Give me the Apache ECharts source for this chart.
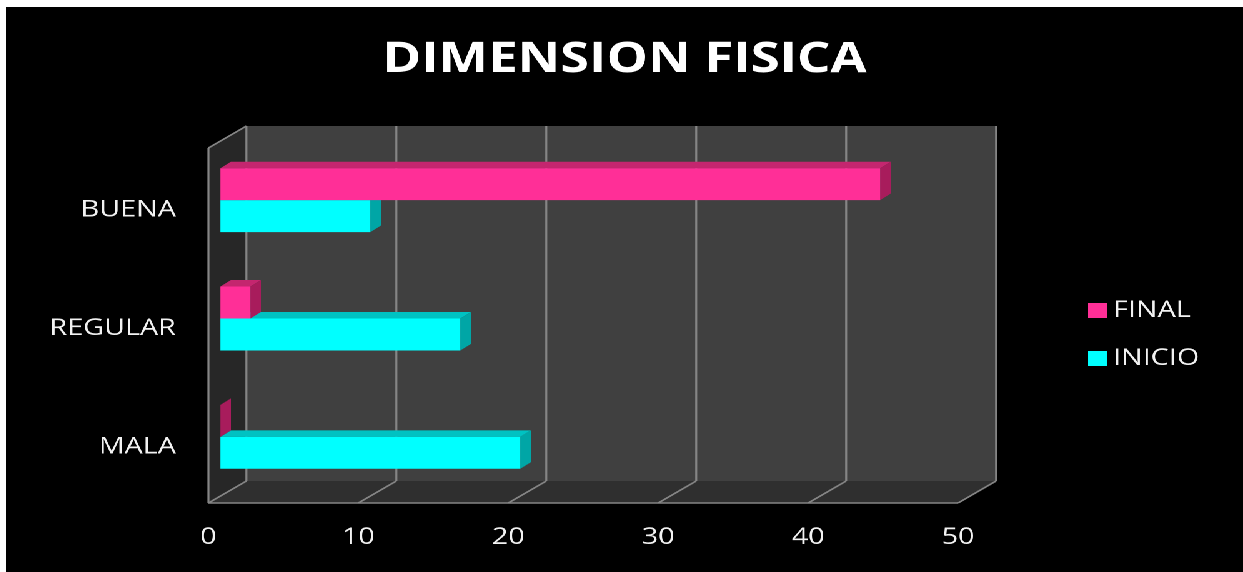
<!DOCTYPE html>
<html>
<head>
<meta charset="utf-8">
<script src="https://cdn.jsdelivr.net/npm/echarts@6/dist/echarts.min.js"></script>
<style>
  html, body { margin: 0; padding: 0; background: #fff; width: 1243px; height: 572px; overflow: hidden; }
  /* the chart is laid out on a narrower canvas and widened, giving the broad lettering */
  #chart { position: absolute; left: 6px; top: 7px; width: 990px; height: 565px; background: #000;
           transform-origin: 0 0; transform: scaleX(1.2495); }
</style>
</head>
<body>
<div id="chart"></div>
<script>
// ---- data ----
const categories = ['BUENA', 'REGULAR', 'MALA'];
const inicioValues = [10, 16, 20];
const finalValues = [44, 2, 0];
const xTicks = [0, 10, 20, 30, 40, 50];
const seriesNames = ['FINAL', 'INICIO'];

// ---- 3D look: offsets of the back wall and of the bar faces from the front plane ----
const WALL_DX = 30.4, WALL_DY = -22;
const BAR_OFF_X = 9.6, BAR_OFF_Y = -7;
const BAR_DEPTH_X = 8.4, BAR_DEPTH_Y = -6.5;

const PINK = { front: '#ff2f97', top: '#c4266f', side: '#a81c5c' };
const CYAN = { front: '#00ffff', top: '#00c2c2', side: '#00a6a6' };
const FONT = '"Open Sans", "DejaVu Sans", sans-serif';
const TEXT_COLOR = '#f2f2f2';

function wallRenderer(params, api) {
  const cs = params.coordSys;
  const gx = cs.x, gy = cs.y, gw = cs.width, gh = cs.height;
  const edge = { stroke: '#858585', lineWidth: 1.6 };
  const children = [
    { type: 'polygon', shape: { points: [[gx, gy], [gx + WALL_DX, gy + WALL_DY], [gx + WALL_DX, gy + gh + WALL_DY], [gx, gy + gh]] },
      style: { fill: '#272727' } },
    { type: 'polygon', shape: { points: [[gx, gy + gh], [gx + WALL_DX, gy + gh + WALL_DY], [gx + gw + WALL_DX, gy + gh + WALL_DY], [gx + gw, gy + gh]] },
      style: { fill: '#2f2f2f' } },
    { type: 'rect', shape: { x: gx + WALL_DX, y: gy + WALL_DY, width: gw, height: gh }, style: { fill: '#404040' } }
  ];
  xTicks.forEach(function (t) {
    const x = api.coord([t, 0])[0];
    children.push({ type: 'line', shape: { x1: x + WALL_DX, y1: gy + WALL_DY, x2: x + WALL_DX, y2: gy + gh + WALL_DY }, style: edge });
    children.push({ type: 'line', shape: { x1: x + WALL_DX, y1: gy + gh + WALL_DY, x2: x, y2: gy + gh }, style: edge });
  });
  children.push({ type: 'line', shape: { x1: gx, y1: gy, x2: gx + WALL_DX, y2: gy + WALL_DY }, style: edge });
  children.push({ type: 'line', shape: { x1: gx, y1: gy, x2: gx, y2: gy + gh }, style: edge });
  children.push({ type: 'line', shape: { x1: gx, y1: gy + gh, x2: gx + gw, y2: gy + gh }, style: edge });
  return { type: 'group', children: children };
}

function barRenderer(colors, upper) {
  return function (params, api) {
    const v = api.value(0), c = api.value(1);
    const p0 = api.coord([0, c]);
    const p1 = api.coord([v, c]);
    const h = api.size([0, 1])[1] * 0.27;
    const x0 = p0[0] + BAR_OFF_X, x1 = p1[0] + BAR_OFF_X;
    const mid = p0[1] + BAR_OFF_Y;
    const top = upper ? mid - h : mid;
    const bottom = top + h;
    const dx = BAR_DEPTH_X, dy = BAR_DEPTH_Y;
    return {
      type: 'group',
      children: [
        { type: 'polygon', shape: { points: [[x0, top], [x1, top], [x1 + dx, top + dy], [x0 + dx, top + dy]] },
          style: { fill: colors.top } },
        { type: 'polygon', shape: { points: [[x1, top], [x1 + dx, top + dy], [x1 + dx, bottom + dy], [x1, bottom]] },
          style: { fill: colors.side } },
        { type: 'rect', shape: { x: x0, y: top, width: Math.max(0, x1 - x0), height: h },
          style: { fill: colors.front } }
      ]
    };
  };
}

const chart = echarts.init(document.getElementById('chart'), null, { devicePixelRatio: 2 });
chart.setOption({
  backgroundColor: '#000',
  animation: false,
  title: {
    text: 'DIMENSION FISICA',
    left: 'center',
    top: 27,
    textStyle: { color: '#fff', fontSize: 42, fontWeight: 'bold', fontFamily: FONT }
  },
  legend: {
    data: seriesNames,
    orient: 'vertical',
    left: 861,
    top: 287,
    icon: 'rect',
    itemWidth: 15,
    itemHeight: 15,
    itemGap: 25,
    textStyle: { color: TEXT_COLOR, fontSize: 23, fontFamily: FONT }
  },
  grid: { left: 162, top: 141, width: 600, height: 355 },
  xAxis: {
    type: 'value',
    min: 0,
    max: 50,
    interval: 10,
    axisLine: { show: false },
    axisTick: { show: false },
    splitLine: { show: false },
    axisLabel: { color: TEXT_COLOR, fontSize: 23, fontFamily: FONT, margin: 23 }
  },
  yAxis: {
    type: 'category',
    data: categories,
    inverse: true,
    axisLine: { show: false },
    axisTick: { show: false },
    axisLabel: {
      color: TEXT_COLOR, fontSize: 23, fontFamily: FONT, margin: 26,
      formatter: '{c|{value}}',
      rich: { c: { color: TEXT_COLOR, fontSize: 23, fontFamily: FONT, padding: [6, 0, 0, 0] } }
    }
  },
  series: [
    {
      name: 'walls',
      type: 'custom',
      silent: true,
      renderItem: wallRenderer,
      data: [[0, 0]],
      z: 1
    },
    {
      name: 'INICIO',
      type: 'custom',
      renderItem: barRenderer(CYAN, false),
      itemStyle: { color: CYAN.front },
      encode: { x: 0, y: 1 },
      data: inicioValues.map(function (v, i) { return [v, i]; }),
      z: 2
    },
    {
      name: 'FINAL',
      type: 'custom',
      renderItem: barRenderer(PINK, true),
      itemStyle: { color: PINK.front },
      encode: { x: 0, y: 1 },
      data: finalValues.map(function (v, i) { return [v, i]; }),
      z: 3
    }
  ]
});
</script>
</body>
</html>
